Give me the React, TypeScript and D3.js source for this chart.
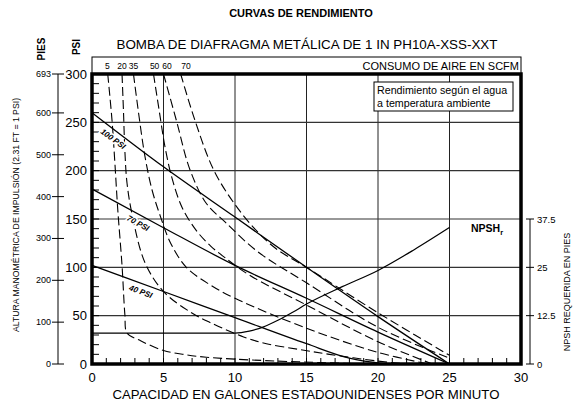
import React from "react";
import { scaleLinear, line, curveCatmullRom, curveMonotoneX, range } from "d3";

// capacidad (GPM) y presion (PSI)
const gpmTicks = [0, 5, 10, 15, 20, 25, 30];
const psiTicks = [0, 50, 100, 150, 200, 250, 300];
const feetTicks = [0, 100, 200, 300, 400, 500, 600, 693];
const npshTicks = [0, 12.5, 25, 37.5];
const npshLabels = ["0", "12.5", "25", "37.5"];

// curvas de presion de aire (lineas continuas)
const pressureNames = ["100 PSI", "70 PSI", "40 PSI"];
const psi100 = [[0, 260], [5, 204], [10, 152], [15, 100], [20, 49], [25, 0]];
const psi70 = [[0, 181], [5, 141], [10, 102], [15, 68], [20, 33], [25, 0]];
const psi40 = [[0, 102], [5, 75], [10, 48], [15, 21], [18, 6], [20.5, 0]];

// consumo de aire en SCFM (lineas discontinuas)
const airNames = ["5", "20", "35", "50", "60", "70"];
const airLabelGpm = [1.08, 2.1, 2.9, 4.38, 5.24, 6.57];
const air5 = [[1.1, 300], [1.4, 252], [1.6, 208], [1.8, 160], [2.1, 102], [2.3, 51], [2.45, 32], [3.4, 24], [5, 14], [6.6, 9.5], [8, 7], [10, 5], [13, 3], [16, 1.5], [19, 0]];
const air20 = [[2.1, 300], [2.2, 262], [2.3, 220], [2.45, 187], [2.8, 155], [3.7, 105], [5, 75], [6.85, 54], [8.25, 43], [10.6, 28], [12.2, 21], [14.5, 15], [16.6, 10], [20, 3], [22, 0]];
const air35 = [[2.9, 300], [3.3, 255], [3.7, 215], [4.2, 180], [4.8, 152], [5.5, 125], [6.6, 100], [8.25, 82], [10, 68], [15, 37], [20, 12], [23.5, 0]];
const air50 = [[4.3, 300], [4.7, 262], [5.1, 225], [5.6, 192], [6.3, 162], [7.3, 138], [8.3, 122], [9.3, 110], [11, 92], [15, 61], [20, 23], [23.8, 0]];
const air60 = [[5.0, 300], [5.9, 252], [6.85, 201], [8.0, 166], [9.3, 147], [11.6, 116], [15, 84], [20, 38], [25, 6]];
const air70 = [[6.2, 300], [7.2, 252], [8.5, 201], [10, 165], [11.5, 138], [12.9, 119], [15, 100], [20, 53], [25, 9]];

// NPSH requerida (pies)
const npsh = [[0, 8], [10, 8], [11, 8.5], [12, 9.6], [13, 11.3], [14, 13.3], [15, 15.5], [17.5, 20], [20, 24.2], [22.5, 29.5], [25, 35.3]];

const FONT = "'Liberation Sans', Arial, Helvetica, sans-serif";

export default function App() {
    const x = scaleLinear().domain([0, 30]).range([92, 521]);
    const y = scaleLinear().domain([0, 300]).range([364, 74]);
    const yFeet = scaleLinear().domain([0, 693]).range([364, 74]);
    const yNpsh = scaleLinear().domain([0, 37.5]).range([364, 219]);

    const solid = line().x(d => x(d[0])).y(d => y(d[1])).curve(curveMonotoneX);
    const dashed = line().x(d => x(d[0])).y(d => y(d[1])).curve(curveCatmullRom.alpha(0.5));
    const npshLine = line().x(d => x(d[0])).y(d => yNpsh(d[1])).curve(curveMonotoneX);

    const pressures = [psi100, psi70, psi40];
    const airs = [air5, air20, air35, air50, air60, air70];

    // etiquetas sobre las lineas: posicion en GPM y angulo
    const labelAt = [[1.45, 36], [3.2, 29], [3.4, 20]];
    const labelDy = [11, 10, 9];

    return (
        <svg width={577} height={406} style={{ position: "absolute", left: 0, top: 0, background: "#fff" }} fontFamily={FONT}>
            <text x={301} y={17} textAnchor="middle" fontSize={11} fontWeight="bold">CURVAS DE RENDIMIENTO</text>
            <text x={307} y={49} textAnchor="middle" fontSize={13.4}>BOMBA DE DIAFRAGMA METÁLICA DE 1 IN PH10A-XSS-XXT</text>
            <text transform="translate(45,49) rotate(-90)" textAnchor="middle" fontSize={10} fontWeight="bold">PIES</text>
            <text transform="translate(80,47) rotate(-90)" textAnchor="middle" fontSize={10} fontWeight="bold">PSI</text>

            {/* caja consumo de aire */}
            <rect x={92} y={57} width={429} height={17} fill="none" stroke="#000" strokeWidth={1} />
            {airNames.map((n, i) =>
                <text key={n} x={x(airLabelGpm[i])} y={69} textAnchor="middle" fontSize={8.5}>{n}</text>
            )}
            <text x={519} y={69.5} textAnchor="end" fontSize={11}>CONSUMO DE AIRE EN SCFM</text>

            {/* rejilla */}
            {gpmTicks.slice(1, -1).map(t =>
                <line key={"gx" + t} x1={x(t)} x2={x(t)} y1={y(300)} y2={y(0)} stroke="#222" strokeWidth={1} />
            )}
            {psiTicks.slice(1, -1).map(t =>
                <line key={"gy" + t} x1={x(0)} x2={x(30)} y1={y(t)} y2={y(t)} stroke="#333" strokeWidth={1.1} />
            )}
            {range(10, 300, 10).map(t =>
                <line key={"my" + t} x1={x(0)} x2={x(0) + 7} y1={y(t)} y2={y(t)} stroke="#000" strokeWidth={1} />
            )}
            {range(1, 30, 1).map(t =>
                <line key={"mx" + t} x1={x(t)} x2={x(t)} y1={y(0)} y2={y(0) - 6} stroke="#000" strokeWidth={1} />
            )}

            {/* curvas */}
            <path d={npshLine(npsh)} fill="none" stroke="#000" strokeWidth={1.2} />
            {airs.map((d, i) =>
                <path key={"a" + i} d={dashed(d)} fill="none" stroke="#000" strokeWidth={1.1} strokeDasharray="9,4" />
            )}
            {pressures.map((d, i) =>
                <path key={"p" + i} d={solid(d)} fill="none" stroke="#000" strokeWidth={1.3} />
            )}
            {pressureNames.map((n, i) => {
                const px = x(labelAt[i][0]);
                const py = y(interp(pressures[i], labelAt[i][0])) + labelDy[i];
                return <text key={n} transform={`translate(${px},${py}) rotate(${labelAt[i][1]})`} textAnchor="middle"
                    fontSize={8} fontWeight="bold" fontStyle="italic" stroke="#fff" strokeWidth={3} paintOrder="stroke"
                    fill="#000" dominantBaseline="middle">{n}</text>;
            })}

            {/* marco */}
            <rect x={x(0)} y={y(300)} width={x(30) - x(0)} height={y(0) - y(300)} fill="none" stroke="#000" strokeWidth={3.5} />

            {/* leyenda */}
            <rect x={374} y={82} width={139} height={29} fill="#fff" stroke="#000" strokeWidth={1} />
            <text x={377} y={94} fontSize={10.7}>Rendimiento según el agua</text>
            <text x={377} y={107} fontSize={10.7}>a temperatura ambiente</text>
            <text x={471} y={232} fontSize={10.5} fontWeight="bold">NPSH<tspan fontSize={7.5} dy={2.5}>r</tspan></text>

            {/* eje PSI */}
            {psiTicks.map(t =>
                <text key={"pl" + t} x={87} y={y(t)} textAnchor="end" dominantBaseline="central" fontSize={13}>{t}</text>
            )}
            {/* eje pies */}
            <line x1={58} x2={58} y1={yFeet(693)} y2={yFeet(0)} stroke="#000" strokeWidth={1} />
            {feetTicks.map(t =>
                <g key={"f" + t}>
                    <line x1={52} x2={64} y1={yFeet(t)} y2={yFeet(t)} stroke="#000" strokeWidth={1} />
                    <text x={51} y={yFeet(t)} textAnchor="end" dominantBaseline="central" fontSize={9}>{t}</text>
                </g>
            )}
            <text transform="translate(19,215) rotate(-90)" textAnchor="middle" fontSize={8.7}>ALTURA MANOMÉTRICA DE IMPULSIÓN (2.31 FT = 1 PSI)</text>

            {/* eje NPSH */}
            <line x1={530} x2={530} y1={yNpsh(37.5)} y2={yNpsh(0)} stroke="#000" strokeWidth={1} />
            {npshTicks.map((t, i) =>
                <g key={"n" + t}>
                    <line x1={526} x2={534} y1={yNpsh(t)} y2={yNpsh(t)} stroke="#000" strokeWidth={1} />
                    <text x={537} y={yNpsh(t)} dominantBaseline="central" fontSize={9.5}>{npshLabels[i]}</text>
                </g>
            )}
            <text transform="translate(570,292) rotate(-90)" textAnchor="middle" fontSize={9}>NPSH REQUERIDA EN PIES</text>

            {/* eje GPM */}
            {gpmTicks.map(t =>
                <text key={"gl" + t} x={x(t)} y={382} textAnchor="middle" fontSize={13}>{t}</text>
            )}
            <text x={306} y={399} textAnchor="middle" fontSize={13.2}>CAPACIDAD EN GALONES ESTADOUNIDENSES POR MINUTO</text>
        </svg>
    );
}

// interpolacion lineal simple para ubicar etiquetas
function interp(pts, gx) {
    for (let i = 1; i < pts.length; i++) {
        if (gx <= pts[i][0]) {
            const [x0, y0] = pts[i - 1];
            const [x1, y1] = pts[i];
            return y0 + (y1 - y0) * (gx - x0) / (x1 - x0);
        }
    }
    return pts[pts.length - 1][1];
}
